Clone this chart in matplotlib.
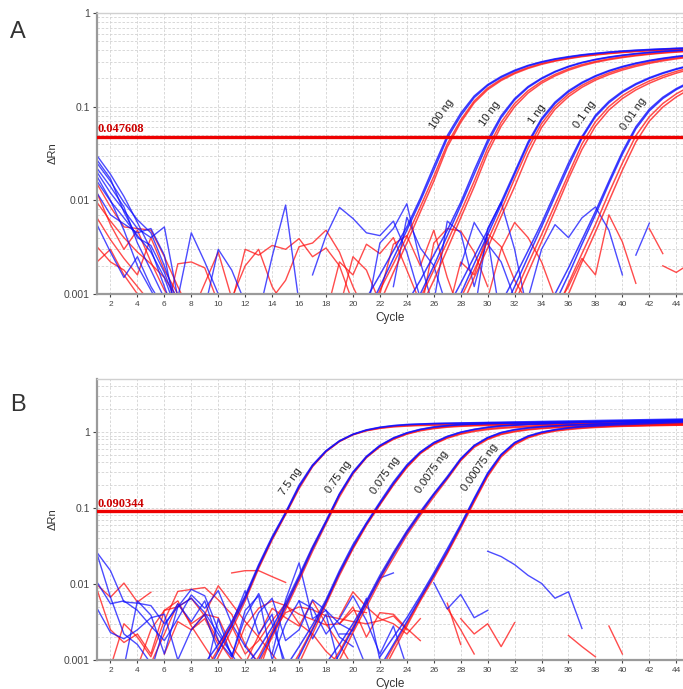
import numpy as np
import matplotlib.pyplot as plt
from matplotlib.ticker import FixedLocator, LogLocator, NullFormatter

plt.rcParams['font.family'] = ['Liberation Sans', 'DejaVu Sans']

BLUE = "#1010ff"
RED = "#ff1010"

# ---------------- panel A (first cycle of each list, then dRn per cycle) ----------------
a_thr = 0.047608
a_labels = ["100 ng", "10 ng", "1 ng", "0.1 ng", "0.01 ng"]
a_label_cycle = [26.6, 30.2, 33.7, 37.2, 40.8]

a_100_start = 21
a_100_b1 = [0.0006, 0.0012, 0.0024, 0.0048, 0.0098, 0.021, 0.046, 0.080, 0.125, 0.168, 0.205, 0.240, 0.272,
            0.298, 0.320, 0.338, 0.355, 0.368, 0.380, 0.390, 0.398, 0.405, 0.412, 0.418, 0.423]
a_100_b2 = [0.0009, 0.0016, 0.0029, 0.0052, 0.0105, 0.023, 0.049, 0.085, 0.130, 0.172, 0.210, 0.245, 0.276,
            0.302, 0.324, 0.342, 0.358, 0.371, 0.383, 0.393, 0.401, 0.408, 0.414, 0.420, 0.425]
a_100_r1 = [0.0004, 0.0008, 0.0017, 0.0035, 0.0075, 0.016, 0.037, 0.068, 0.110, 0.152, 0.190, 0.225, 0.256,
            0.283, 0.306, 0.325, 0.342, 0.356, 0.368, 0.378, 0.387, 0.395, 0.402, 0.408, 0.413]
a_100_r2 = [0.0005, 0.0011, 0.0021, 0.0041, 0.0085, 0.018, 0.040, 0.072, 0.115, 0.158, 0.196, 0.231, 0.262,
            0.289, 0.311, 0.330, 0.347, 0.360, 0.372, 0.382, 0.391, 0.398, 0.405, 0.411, 0.416]

a_10_start = 24
a_10_b1 = [0.0005, 0.0010, 0.0020, 0.0042, 0.0088, 0.019, 0.041, 0.076, 0.118, 0.160, 0.198, 0.234, 0.266,
           0.294, 0.317, 0.336, 0.352, 0.366, 0.378, 0.388, 0.396, 0.403]
a_10_b2 = [0.0008, 0.0014, 0.0026, 0.0048, 0.0095, 0.021, 0.044, 0.080, 0.122, 0.164, 0.202, 0.238, 0.270,
           0.297, 0.320, 0.339, 0.355, 0.369, 0.380, 0.390, 0.398, 0.405]
a_10_r1 = [0.0003, 0.0007, 0.0014, 0.0030, 0.0065, 0.014, 0.032, 0.062, 0.100, 0.140, 0.178, 0.213, 0.245,
           0.273, 0.297, 0.317, 0.334, 0.349, 0.362, 0.373, 0.382, 0.390]
a_10_r2 = [0.0004, 0.0009, 0.0018, 0.0036, 0.0075, 0.016, 0.036, 0.068, 0.108, 0.148, 0.186, 0.221, 0.253,
           0.281, 0.304, 0.324, 0.341, 0.355, 0.367, 0.378, 0.387, 0.394]

a_1_start = 27
a_1_b1 = [0.0005, 0.0010, 0.0021, 0.0043, 0.0090, 0.019, 0.040, 0.072, 0.108, 0.144, 0.178, 0.210, 0.239,
          0.265, 0.288, 0.308, 0.325, 0.340, 0.353]
a_1_b2 = [0.0007, 0.0013, 0.0025, 0.0048, 0.0096, 0.020, 0.042, 0.075, 0.112, 0.148, 0.182, 0.214, 0.243,
          0.269, 0.292, 0.312, 0.329, 0.344, 0.357]
a_1_r1 = [0.0003, 0.0007, 0.0015, 0.0031, 0.0067, 0.014, 0.031, 0.060, 0.094, 0.128, 0.161, 0.192, 0.220,
          0.246, 0.269, 0.290, 0.308, 0.324, 0.338]
a_1_r2 = [0.0004, 0.0009, 0.0018, 0.0037, 0.0078, 0.017, 0.036, 0.066, 0.101, 0.136, 0.169, 0.200, 0.229,
          0.255, 0.278, 0.298, 0.316, 0.331, 0.345]

a_01_start = 31
a_01_b1 = [0.0006, 0.0012, 0.0025, 0.0052, 0.011, 0.023, 0.046, 0.078, 0.110, 0.142, 0.172, 0.200, 0.226, 0.250, 0.272]
a_01_b2 = [0.0008, 0.0015, 0.0029, 0.0057, 0.012, 0.025, 0.048, 0.081, 0.114, 0.146, 0.176, 0.204, 0.230, 0.254, 0.276]
a_01_r1 = [0.0004, 0.0008, 0.0017, 0.0036, 0.0078, 0.017, 0.035, 0.062, 0.092, 0.122, 0.151, 0.178, 0.204, 0.228, 0.250]
a_01_r2 = [0.0005, 0.0010, 0.0021, 0.0043, 0.0090, 0.019, 0.040, 0.069, 0.100, 0.131, 0.160, 0.188, 0.214, 0.238, 0.260]

a_001_start = 35
a_001_b1 = [0.0008, 0.0016, 0.0034, 0.0070, 0.015, 0.031, 0.058, 0.090, 0.122, 0.152, 0.180]
a_001_b2 = [0.0010, 0.0019, 0.0038, 0.0076, 0.016, 0.033, 0.061, 0.094, 0.126, 0.156, 0.184]
a_001_r1 = [0.0005, 0.0010, 0.0022, 0.0046, 0.0098, 0.021, 0.042, 0.070, 0.099, 0.127, 0.154]
a_001_r2 = [0.0006, 0.0013, 0.0027, 0.0055, 0.012, 0.025, 0.049, 0.078, 0.108, 0.137, 0.164]

# baseline noise, panel A: (first cycle, values)
a_noise_blue = [
    (1, [0.030, 0.019, 0.011, 0.0058, 0.0030, 0.0012, 0.0005]),
    (1, [0.025, 0.016, 0.0095, 0.0062, 0.0045, 0.0020, 0.0008]),
    (1, [0.020, 0.012, 0.0078, 0.0050, 0.0040, 0.0052, 0.0009]),
    (1, [0.016, 0.0098, 0.0065, 0.0042, 0.0028, 0.0015, 0.0006]),
    (1, [0.012, 0.0070, 0.0056, 0.0045, 0.0050, 0.0026, 0.0005]),
    (1, [0.022, 0.014, 0.0085, 0.0035, 0.0018, 0.0009]),
    (1, [0.0055, 0.0028, 0.0015, 0.0025, 0.0012, 0.0007]),
    (1, [0.018, 0.010, 0.0048, 0.0020, 0.0011, 0.0006]),
    (1, [0.027, 0.017, 0.0075, 0.0040, 0.0033, 0.0017, 0.0007]),
    (7, [0.0009, 0.0045, 0.0022, 0.0010, 0.0006]),
    (9, [0.0007, 0.0030, 0.0018, 0.0008]),
    (13, [0.0006, 0.0025, 0.0089, 0.0008]),
    (17, [0.0016, 0.0042, 0.0084, 0.0064, 0.0045, 0.0042, 0.0060, 0.0028, 0.0009]),
    (21, [0.0006, 0.0035, 0.0050, 0.0092, 0.0022, 0.0007]),
    (23, [0.0012, 0.0066, 0.0031, 0.0020, 0.0007]),
    (26, [0.0008, 0.0060, 0.0045, 0.0012, 0.0040, 0.0005]),
    (28, [0.0020, 0.0058, 0.0034, 0.0022, 0.0009]),
    (29, [0.0006, 0.0050, 0.0095, 0.0030, 0.0006]),
    (33, [0.0009, 0.0030, 0.0055, 0.0040, 0.0065, 0.0085, 0.0048, 0.0016]),
    (41, [0.0026, 0.0057]),
]
a_noise_red = [
    (1, [0.015, 0.0085, 0.0052, 0.0050, 0.0048, 0.0025, 0.0012, 0.0006]),
    (1, [0.0095, 0.0060, 0.0040, 0.0028, 0.0021, 0.0015, 0.0009]),
    (1, [0.0032, 0.0022, 0.0018, 0.0012, 0.0008]),
    (1, [0.012, 0.0055, 0.0030, 0.0048, 0.0022, 0.0011, 0.0007]),
    (1, [0.0022, 0.0030, 0.0016, 0.0010, 0.0006]),
    (1, [0.0065, 0.0038, 0.0024, 0.0016, 0.0040, 0.0018, 0.0010, 0.0005]),
    (6, [0.0005, 0.0021, 0.0022, 0.0019, 0.0008]),
    (8, [0.0006, 0.0013, 0.0028, 0.0009, 0.0020, 0.0030, 0.0012, 0.0007]),
    (11, [0.0008, 0.0030, 0.0026, 0.0033, 0.0030, 0.0039, 0.0025, 0.0031, 0.0020, 0.0008]),
    (14, [0.0009, 0.0014, 0.0032, 0.0035, 0.0048, 0.0028, 0.0012, 0.0006]),
    (18, [0.0006, 0.0022, 0.0016, 0.0034, 0.0027, 0.0040, 0.0018, 0.0008]),
    (19, [0.0007, 0.0025, 0.0018, 0.0008]),
    (22, [0.0010, 0.0034, 0.0042, 0.0020, 0.0048, 0.0015, 0.0006]),
    (25, [0.0006, 0.0035, 0.0050, 0.0047, 0.0028, 0.0012]),
    (27, [0.0006, 0.0022, 0.0016, 0.0044, 0.0032, 0.0014, 0.0008]),
    (30, [0.0009, 0.0030, 0.0058, 0.0040, 0.0022, 0.0009]),
    (35, [0.0007, 0.0012, 0.0024, 0.0016, 0.0070, 0.0036, 0.0013]),
    (42, [0.0050, 0.0027]),
    (43, [0.0020, 0.0017, 0.0021]),
]

# ---------------- panel B ----------------
b_thr = 0.090344
b_labels = ["7.5 ng", "0.75 ng", "0.075 ng", "0.0075 ng", "0.00075 ng"]
b_label_cycle = [15.4, 18.9, 22.4, 25.9, 29.4]
b_label_value = [0.226, 0.256, 0.27, 0.30, 0.34]

b_75_start = 9
b_75_b1 = [0.0006, 0.0013, 0.0028, 0.0065, 0.017, 0.040, 0.085, 0.19, 0.36, 0.56, 0.76, 0.93, 1.06, 1.15, 1.21,
           1.25, 1.27, 1.29, 1.30, 1.31, 1.32, 1.33, 1.33, 1.34, 1.34, 1.35, 1.35, 1.36, 1.36, 1.37, 1.37, 1.38,
           1.38, 1.39, 1.39, 1.40, 1.40]
b_75_b2 = [0.0009, 0.0016, 0.0032, 0.0070, 0.018, 0.042, 0.088, 0.20, 0.37, 0.57, 0.77, 0.94, 1.07, 1.16, 1.22,
           1.26, 1.28, 1.30, 1.31, 1.32, 1.33, 1.34, 1.35, 1.36, 1.37, 1.38, 1.39, 1.40, 1.41, 1.42, 1.43, 1.44,
           1.45, 1.46, 1.47, 1.48, 1.49]
b_75_r1 = [0.0005, 0.0011, 0.0025, 0.0060, 0.016, 0.038, 0.082, 0.18, 0.35, 0.55, 0.75, 0.92, 1.04, 1.12, 1.17,
           1.20, 1.22, 1.23, 1.24, 1.25, 1.25, 1.26, 1.26, 1.27, 1.27, 1.27, 1.28, 1.28, 1.28, 1.29, 1.29, 1.29,
           1.30, 1.30, 1.30, 1.31, 1.31]
b_75_r2 = [0.0007, 0.0014, 0.0030, 0.0066, 0.017, 0.040, 0.084, 0.19, 0.36, 0.56, 0.76, 0.93, 1.05, 1.13, 1.19,
           1.22, 1.24, 1.26, 1.27, 1.28, 1.29, 1.30, 1.30, 1.31, 1.31, 1.32, 1.32, 1.33, 1.33, 1.34, 1.34, 1.35,
           1.35, 1.35, 1.36, 1.36, 1.37]

b_075_start = 12
b_075_b1 = [0.0005, 0.0010, 0.0022, 0.0050, 0.012, 0.029, 0.065, 0.15, 0.29, 0.47, 0.66, 0.83, 0.97, 1.08, 1.16,
            1.21, 1.25, 1.27, 1.29, 1.30, 1.31, 1.32, 1.33, 1.34, 1.35, 1.36, 1.37, 1.38, 1.39, 1.40, 1.41, 1.42,
            1.43, 1.44]
b_075_b2 = [0.0008, 0.0014, 0.0027, 0.0056, 0.013, 0.031, 0.068, 0.155, 0.30, 0.48, 0.67, 0.84, 0.98, 1.09, 1.17,
            1.22, 1.26, 1.28, 1.30, 1.31, 1.32, 1.33, 1.34, 1.35, 1.36, 1.37, 1.38, 1.38, 1.39, 1.40, 1.40, 1.41,
            1.41, 1.42]
b_075_r1 = [0.0004, 0.0009, 0.0020, 0.0046, 0.011, 0.027, 0.062, 0.14, 0.28, 0.46, 0.64, 0.80, 0.94, 1.04, 1.11,
            1.16, 1.19, 1.21, 1.22, 1.23, 1.24, 1.25, 1.25, 1.26, 1.26, 1.27, 1.27, 1.27, 1.28, 1.28, 1.28, 1.29,
            1.29, 1.29]
b_075_r2 = [0.0006, 0.0011, 0.0024, 0.0052, 0.012, 0.030, 0.066, 0.15, 0.29, 0.47, 0.65, 0.82, 0.95, 1.06, 1.13,
            1.18, 1.21, 1.23, 1.25, 1.26, 1.27, 1.28, 1.28, 1.29, 1.29, 1.30, 1.30, 1.31, 1.31, 1.32, 1.32, 1.33,
            1.33, 1.33]

b_0075_start = 15
b_0075_b1 = [0.0005, 0.0011, 0.0025, 0.0058, 0.014, 0.031, 0.062, 0.115, 0.21, 0.36, 0.54, 0.72, 0.87, 0.99, 1.08,
             1.15, 1.20, 1.23, 1.26, 1.28, 1.30, 1.32, 1.34, 1.35, 1.37, 1.38, 1.39, 1.40, 1.41, 1.42, 1.43]
b_0075_b2 = [0.0008, 0.0015, 0.0029, 0.0062, 0.015, 0.033, 0.064, 0.12, 0.22, 0.37, 0.55, 0.73, 0.88, 1.00, 1.09,
             1.16, 1.21, 1.24, 1.27, 1.29, 1.31, 1.33, 1.35, 1.37, 1.39, 1.40, 1.42, 1.43, 1.44, 1.45, 1.46]
b_0075_r1 = [0.0004, 0.0009, 0.0022, 0.0054, 0.013, 0.029, 0.059, 0.11, 0.20, 0.34, 0.52, 0.69, 0.83, 0.94, 1.02,
             1.08, 1.12, 1.15, 1.17, 1.19, 1.20, 1.21, 1.22, 1.23, 1.24, 1.25, 1.25, 1.26, 1.26, 1.27, 1.27]
b_0075_r2 = [0.0006, 0.0012, 0.0026, 0.0058, 0.014, 0.030, 0.061, 0.113, 0.205, 0.35, 0.53, 0.70, 0.85, 0.96, 1.05,
             1.11, 1.15, 1.18, 1.20, 1.22, 1.23, 1.24, 1.25, 1.26, 1.27, 1.28, 1.28, 1.29, 1.29, 1.30, 1.30]

b_00075_start = 18
b_00075_b1 = [0.0006, 0.0012, 0.0026, 0.0055, 0.012, 0.024, 0.047, 0.085, 0.15, 0.25, 0.44, 0.66, 0.84, 0.98,
              1.07, 1.13, 1.17, 1.20, 1.23, 1.25, 1.27, 1.29, 1.31, 1.33, 1.35, 1.37, 1.38, 1.40]
b_00075_b2 = [0.0009, 0.0016, 0.0030, 0.0060, 0.013, 0.026, 0.050, 0.090, 0.155, 0.26, 0.45, 0.67, 0.85, 0.99,
              1.08, 1.14, 1.18, 1.21, 1.24, 1.26, 1.28, 1.30, 1.32, 1.34, 1.36, 1.38, 1.40, 1.42]
b_00075_r1 = [0.0005, 0.0010, 0.0023, 0.0050, 0.011, 0.022, 0.044, 0.080, 0.14, 0.24, 0.42, 0.63, 0.80, 0.93,
              1.01, 1.07, 1.11, 1.14, 1.16, 1.18, 1.19, 1.20, 1.21, 1.22, 1.23, 1.24, 1.24, 1.25]
b_00075_r2 = [0.0007, 0.0013, 0.0027, 0.0057, 0.012, 0.025, 0.048, 0.086, 0.15, 0.25, 0.43, 0.65, 0.82, 0.95,
              1.03, 1.09, 1.13, 1.16, 1.18, 1.20, 1.22, 1.23, 1.24, 1.25, 1.26, 1.27, 1.27, 1.28]

b_000075_start = 22
b_000075_b1 = [0.0008, 0.0016, 0.0032, 0.0065, 0.013, 0.027, 0.058, 0.13, 0.28, 0.50, 0.72, 0.88, 0.99, 1.07,
               1.13, 1.17, 1.20, 1.23, 1.25, 1.27, 1.29, 1.31, 1.33, 1.35]
b_000075_b2 = [0.0011, 0.0020, 0.0036, 0.0070, 0.014, 0.029, 0.061, 0.135, 0.29, 0.51, 0.73, 0.89, 1.00, 1.08,
               1.14, 1.19, 1.23, 1.26, 1.29, 1.31, 1.33, 1.35, 1.37, 1.39]
b_000075_r1 = [0.0006, 0.0013, 0.0028, 0.0060, 0.012, 0.025, 0.054, 0.12, 0.26, 0.47, 0.68, 0.84, 0.95, 1.03,
               1.08, 1.12, 1.15, 1.17, 1.19, 1.20, 1.21, 1.22, 1.23, 1.24]
b_000075_r2 = [0.0007, 0.0015, 0.0030, 0.0063, 0.013, 0.026, 0.057, 0.125, 0.27, 0.49, 0.70, 0.86, 0.97, 1.05,
               1.10, 1.14, 1.17, 1.19, 1.21, 1.22, 1.23, 1.24, 1.25, 1.26]

b_noise_blue = [
    (1, [0.026, 0.015, 0.0058, 0.0056, 0.0052, 0.0030, 0.0050, 0.0065, 0.0042, 0.0022, 0.0012, 0.0006]),
    (1, [0.025, 0.0067, 0.0022, 0.0016, 0.0009]),
    (1, [0.0106, 0.0055, 0.0060, 0.0045, 0.0028, 0.0018, 0.0035, 0.0072, 0.0048, 0.0082, 0.0030, 0.0015, 0.0009]),
    (1, [0.0048, 0.0023, 0.0019, 0.0025, 0.0036, 0.0040, 0.0010, 0.0006]),
    (3, [0.0008, 0.0060, 0.0039, 0.0012, 0.0050, 0.0085, 0.0070, 0.0025, 0.0012]),
    (5, [0.0007, 0.0028, 0.0055, 0.0032, 0.0060, 0.0018, 0.0011, 0.0037, 0.0075, 0.0030, 0.0009]),
    (7, [0.0010, 0.0025, 0.0040, 0.0013, 0.0030, 0.0082, 0.0022, 0.0040, 0.0007]),
    (9, [0.0006, 0.0035, 0.0011, 0.0045, 0.0070, 0.0010, 0.0030, 0.0060, 0.0019, 0.0040, 0.0008]),
    (12, [0.0015, 0.0042, 0.0065, 0.0018, 0.0025, 0.0062, 0.0045, 0.0030, 0.0024, 0.0065, 0.0010]),
    (14, [0.0012, 0.0062, 0.0190, 0.0035, 0.0045, 0.0020, 0.0015]),
    (16, [0.0060, 0.0048, 0.0022, 0.0035, 0.0070, 0.0033, 0.0012, 0.0028, 0.0008]),
    (19, [0.0022, 0.0022, 0.0008]),
    (22, [0.0120, 0.0140]),
    (26, [0.0104, 0.0047, 0.0073, 0.0036, 0.0045]),
    (30, [0.027, 0.023, 0.018, 0.013, 0.0102, 0.0065, 0.0079, 0.0026]),
]
b_noise_red = [
    (1, [0.0098, 0.0067, 0.0103, 0.0058, 0.0078]),
    (1, [0.0085, 0.0025, 0.0017, 0.0022, 0.0012, 0.0045, 0.0060, 0.0028, 0.0015, 0.0008]),
    (2, [0.0008, 0.0030, 0.0020, 0.0011, 0.0033, 0.0080, 0.0085, 0.0090, 0.0062, 0.0040, 0.0016, 0.0009]),
    (4, [0.0008, 0.0025, 0.0045, 0.0050, 0.0065, 0.0038, 0.0018, 0.0010, 0.0028, 0.0048, 0.0060, 0.0052, 0.0040,
         0.0034, 0.0029, 0.0030, 0.0045, 0.0042]),
    (5, [0.0009, 0.0022, 0.0055, 0.0030, 0.0040, 0.0095, 0.0055, 0.0032, 0.0020, 0.0012, 0.0007]),
    (6, [0.0012, 0.0032, 0.0025, 0.0040, 0.0036, 0.0015, 0.0009, 0.0021, 0.0048, 0.0036, 0.0028, 0.0060, 0.0030,
         0.0016, 0.0008]),
    (8, [0.0025, 0.0035, 0.0016, 0.0028, 0.0012, 0.0018, 0.0033, 0.0055, 0.0030, 0.0022, 0.0013, 0.0009]),
    (11, [0.014, 0.015, 0.015, 0.0125, 0.0105]),
    (13, [0.0007, 0.0022, 0.0042, 0.0050, 0.0046, 0.0038, 0.0035, 0.0032, 0.0030, 0.0033, 0.0038, 0.0025]),
    (19, [0.0037, 0.0079, 0.0050, 0.0035, 0.0030, 0.0022, 0.0035]),
    (19, [0.0030, 0.0050, 0.0020, 0.0042, 0.0040, 0.0026, 0.0018]),
    (27, [0.0056, 0.0016]),
    (27, [0.0048, 0.0025, 0.0012]),
    (28, [0.0035, 0.0022, 0.0030, 0.0015, 0.0031]),
    (36, [0.0021, 0.0015, 0.0011]),
    (39, [0.0028, 0.0012]),
]

a_curves = [
    (a_100_start, [a_100_b1, a_100_b2], [a_100_r1, a_100_r2]),
    (a_10_start, [a_10_b1, a_10_b2], [a_10_r1, a_10_r2]),
    (a_1_start, [a_1_b1, a_1_b2], [a_1_r1, a_1_r2]),
    (a_01_start, [a_01_b1, a_01_b2], [a_01_r1, a_01_r2]),
    (a_001_start, [a_001_b1, a_001_b2], [a_001_r1, a_001_r2]),
]
b_curves = [
    (b_75_start, [b_75_b1, b_75_b2], [b_75_r1, b_75_r2]),
    (b_075_start, [b_075_b1, b_075_b2], [b_075_r1, b_075_r2]),
    (b_0075_start, [b_0075_b1, b_0075_b2], [b_0075_r1, b_0075_r2]),
    (b_00075_start, [b_00075_b1, b_00075_b2], [b_00075_r1, b_00075_r2]),
    (b_000075_start, [b_000075_b1, b_000075_b2], [b_000075_r1, b_000075_r2]),
]


def line(ax, start, vals, color, lw=1.0, alpha=0.8):
    x = np.arange(start, start + len(vals))
    ax.plot(x, vals, color=color, lw=lw, alpha=alpha, solid_joinstyle="round")


def style_axes(ax, xmax, ymax, thr, thr_label):
    ax.set_yscale("log")
    ax.set_xlim(1, xmax)
    ax.set_ylim(0.001, ymax)
    ax.xaxis.set_major_locator(FixedLocator(np.arange(2, 46, 2)))
    ax.tick_params(axis="x", labelsize=6, length=2, pad=3, colors="#444444")
    ax.tick_params(axis="y", which="major", labelsize=7.5, length=3, pad=2, colors="#444444")
    ax.tick_params(axis="y", which="minor", length=0)
    ax.yaxis.set_minor_locator(LogLocator(base=10, subs=np.arange(2, 10)))
    ax.yaxis.set_minor_formatter(NullFormatter())
    ax.yaxis.set_major_formatter(plt.FuncFormatter(lambda v, p: "{:g}".format(v)))
    ax.grid(True, which="both", axis="y", color="#d2d2d2", lw=0.6, ls=(0, (3, 2)))
    ax.grid(True, which="major", axis="x", color="#d2d2d2", lw=0.6, ls=(0, (3, 2)))
    ax.set_axisbelow(True)
    for s in ["left", "bottom"]:
        ax.spines[s].set_color("#9a9a9a")
        ax.spines[s].set_linewidth(1.6)
    ax.spines["top"].set_color("#d0d0d0")
    ax.spines["top"].set_linewidth(1.0)
    ax.spines["right"].set_visible(False)
    ax.set_xlabel("Cycle", fontsize=8.5, color="#333333", labelpad=3)
    ax.set_ylabel("\u0394Rn", fontsize=8, color="#333333")
    ax.yaxis.set_label_coords(-0.068, 0.5)
    ax.axhline(thr, color="#ee0000", lw=2.4, zorder=6)
    ax.text(1.05, thr * 1.04, thr_label, color="#cc0000", fontsize=9, family="Liberation Serif",
            fontweight="bold", va="bottom", ha="left", zorder=7)


fig = plt.figure(figsize=(6.83, 6.89), dpi=100)
ax_a = fig.add_axes([97 / 683, (689 - 294) / 689, 586 / 683, 281 / 689])
ax_b = fig.add_axes([97 / 683, (689 - 660) / 689, 586 / 683, 281 / 689])

# panel A
for start, vals in a_noise_red:
    line(ax_a, start, vals, RED, alpha=0.75)
for start, vals in a_noise_blue:
    line(ax_a, start, vals, BLUE, alpha=0.75)
for start, blues, reds in a_curves:
    for v in reds:
        line(ax_a, start, v, RED, lw=1.1, alpha=0.75)
    for v in blues:
        line(ax_a, start, v, BLUE, lw=1.1, alpha=0.8)
style_axes(ax_a, 44.5, 1, a_thr, "0.047608")
for lab, c in zip(a_labels, a_label_cycle):
    ax_a.text(c, a_thr * 1.75, lab, rotation=55, fontsize=8, color="#222222",
              ha="center", va="center", rotation_mode="anchor", zorder=8)

# panel B
for start, vals in b_noise_red:
    line(ax_b, start, vals, RED, alpha=0.75)
for start, vals in b_noise_blue:
    line(ax_b, start, vals, BLUE, alpha=0.75)
for start, blues, reds in b_curves:
    for v in reds:
        line(ax_b, start, v, RED, lw=1.1, alpha=0.75)
    for v in blues:
        line(ax_b, start, v, BLUE, lw=1.1, alpha=0.8)
style_axes(ax_b, 44.5, 5, b_thr, "0.090344")
for lab, c, v in zip(b_labels, b_label_cycle, b_label_value):
    ax_b.text(c, v, lab, rotation=55, fontsize=8, color="#222222",
              ha="center", va="center", rotation_mode="anchor", zorder=8)

fig.text(18 / 683, 1 - 32 / 689, "A", fontsize=17, color="#333333", ha="center", va="center")
fig.text(18 / 683, 1 - 405 / 689, "B", fontsize=17, color="#333333", ha="center", va="center")

fig.savefig("out.png", dpi=100)
